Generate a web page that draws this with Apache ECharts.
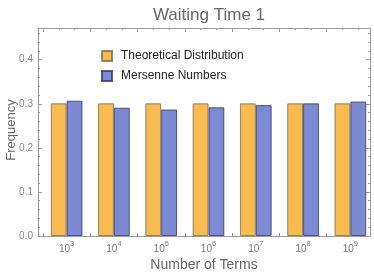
<!DOCTYPE html>
<html>
<head>
<meta charset="utf-8">
<script src="https://cdn.jsdelivr.net/npm/echarts@6/dist/echarts.min.js"></script>
<style>html,body{margin:0;padding:0;background:#fff;}#c{width:374px;height:274px;}</style>
</head>
<body>
<div id="c"></div>
<script>
var categories = ['10^3', '10^4', '10^5', '10^6', '10^7', '10^8', '10^9'];
var theoretical = [0.301, 0.301, 0.301, 0.301, 0.301, 0.301, 0.301];
var mersenne = [0.307, 0.291, 0.287, 0.292, 0.297, 0.301, 0.305];
var yTicks = [0.0, 0.1, 0.2, 0.3, 0.4];

var YMAX = 0.472;
var frameColor = '#9a9a9a';
var chart = echarts.init(document.getElementById('c'), null, {renderer: 'canvas'});
var font = '"Liberation Sans", Arial, sans-serif';

chart.setOption({
  animation: false,
  textStyle: {fontFamily: font},
  title: {
    text: 'Waiting Time 1', left: 204, top: 2, textAlign: 'center',
    textStyle: {fontSize: 17, fontWeight: 'normal', color: '#666', fontFamily: font}
  },
  legend: {
    orient: 'vertical', left: 96, top: 45, itemWidth: 10, itemHeight: 10, itemGap: 8,
    icon: 'rect',
    textStyle: {fontSize: 12, color: '#222', fontFamily: font, padding: [0, 0, 0, 4]},
    data: ['Theoretical Distribution', 'Mersenne Numbers']
  },
  graphic: [
    {type: 'text', x: 11, y: 130, rotation: Math.PI / 2,
     style: {text: 'Frequency', fontSize: 13, fill: '#666', fontFamily: font, align: 'center', verticalAlign: 'middle'}}
  ],
  grid: [
    {left: 38, right: 4, top: 28, bottom: 38, outerBoundsMode: 'none', containLabel: false},
    {left: 43, right: 0, top: 28, bottom: 38, outerBoundsMode: 'none', containLabel: false}
  ],
  xAxis: [
    {type: 'value', gridIndex: 0, min: 0, max: 1, position: 'bottom',
     axisLine: {show: true, onZero: false, lineStyle: {color: frameColor}}, axisTick: {show: false},
     axisLabel: {show: false}, splitLine: {show: false},
     name: 'Number of Terms', nameLocation: 'middle', nameGap: 22,
     nameTextStyle: {fontSize: 14, color: '#666', fontFamily: font}},
    {type: 'value', gridIndex: 0, min: 0, max: 1, position: 'top',
     axisLine: {show: true, onZero: false, lineStyle: {color: frameColor}}, axisTick: {show: false},
     axisLabel: {show: false}, splitLine: {show: false}},
    {type: 'category', gridIndex: 1, data: categories, position: 'bottom',
     axisLine: {show: false, onZero: false},
     axisTick: {show: true, inside: true, length: 3, lineStyle: {color: frameColor}},
     axisLabel: {
       interval: 0, margin: 4,
       formatter: function (v) { var p = v.split('^'); return '{b|' + p[0] + '}{s|' + p[1] + '}'; },
       rich: {
         b: {fontSize: 10, color: '#777', fontFamily: font, verticalAlign: 'bottom', lineHeight: 14},
         s: {fontSize: 7.5, color: '#777', fontFamily: font, verticalAlign: 'top', lineHeight: 14}
       }
     }},
    {type: 'value', gridIndex: 1, min: 0, max: 7, interval: 1, position: 'top',
     axisLine: {show: false, onZero: false},
     axisTick: {show: true, inside: true, length: 4, lineStyle: {color: frameColor}},
     minorTick: {show: true, splitNumber: 3, length: 2, lineStyle: {color: frameColor}},
     axisLabel: {show: false}, splitLine: {show: false}}
  ],
  yAxis: [
    {type: 'value', gridIndex: 0, min: 0, max: YMAX, interval: 0.1, position: 'left',
     axisLine: {show: true, onZero: false, lineStyle: {color: frameColor}},
     axisTick: {show: true, inside: true, length: 4, lineStyle: {color: frameColor}},
     minorTick: {show: true, splitNumber: 5, length: 2, lineStyle: {color: frameColor}},
     axisLabel: {fontSize: 10, color: '#888', margin: 5, fontFamily: font, showMaxLabel: false,
       formatter: function (v) { for (var i = 0; i < yTicks.length; i++) { if (Math.abs(yTicks[i] - v) < 1e-6) return yTicks[i].toFixed(1); } return ''; }},
     splitLine: {show: false}},
    {type: 'value', gridIndex: 0, min: 0, max: YMAX, interval: 0.1, position: 'right',
     axisLine: {show: true, onZero: false, lineStyle: {color: frameColor}},
     axisTick: {show: true, inside: true, length: 4, lineStyle: {color: frameColor}},
     minorTick: {show: true, splitNumber: 5, length: 2, lineStyle: {color: frameColor}},
     axisLabel: {show: false}, splitLine: {show: false}},
    {type: 'value', gridIndex: 1, min: 0, max: YMAX, show: false, splitLine: {show: false}}
  ],
  series: [
    {name: 'Theoretical Distribution', type: 'bar', xAxisIndex: 2, yAxisIndex: 2,
     data: theoretical, barGap: '0%', barCategoryGap: '33%',
     itemStyle: {color: '#F9BB50', borderColor: 'rgba(110,100,80,0.75)', borderWidth: 1}},
    {name: 'Mersenne Numbers', type: 'bar', xAxisIndex: 2, yAxisIndex: 2,
     data: mersenne, barGap: '0%', barCategoryGap: '33%',
     itemStyle: {color: '#7B8AD2', borderColor: 'rgba(50,55,100,0.8)', borderWidth: 1}}
  ]
});
</script>
</body>
</html>
